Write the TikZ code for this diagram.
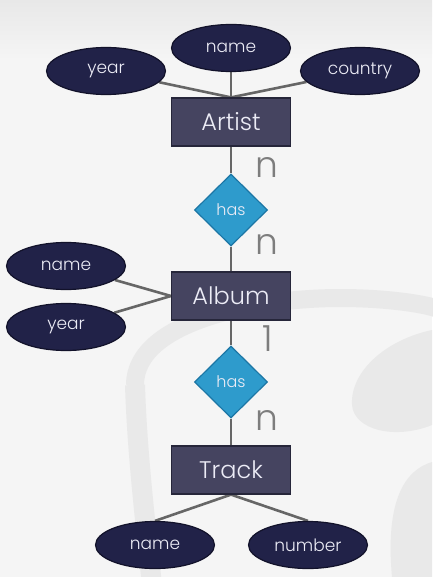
\documentclass[tikz,border=0pt]{standalone}
\usepackage{fontspec}
\setmainfont{Poppins}[UprightFont={* Light}]
\usepackage{tikz}
\usetikzlibrary{shapes,positioning,backgrounds}
\definecolor{bgback}{RGB}{245,245,245}
\definecolor{bgtop}{RGB}{232,232,232}
\definecolor{wmark}{RGB}{233,233,233}
\definecolor{entfill}{RGB}{69,68,96}
\definecolor{entdraw}{RGB}{38,38,58}
\definecolor{attfill}{RGB}{33,34,72}
\definecolor{attdraw}{RGB}{18,18,42}
\definecolor{relfill}{RGB}{46,155,204}
\definecolor{reldraw}{RGB}{28,118,165}
\definecolor{linkgray}{RGB}{102,102,102}
\definecolor{cardgray}{RGB}{125,125,125}
\definecolor{lighttext}{RGB}{236,236,246}

\begin{document}
\begin{tikzpicture}[x=1pt, y=-1pt,
    entity/.style={rectangle, draw=entdraw, line width=1.2pt, fill=entfill, minimum width=119pt, minimum height=48pt, inner sep=0pt, text=lighttext, font=\fontsize{24}{26}\selectfont},
    attrib/.style={ellipse, draw=attdraw, line width=1.2pt, fill=attfill, minimum width=119pt, minimum height=47pt, inner sep=0pt, text=lighttext, font=\fontsize{17}{19}\selectfont},
    relation/.style={diamond, draw=reldraw, line width=1.2pt, fill=relfill, minimum width=73pt, minimum height=72pt, inner sep=0pt, text=lighttext, font=\fontsize{16}{18}\selectfont},
    card/.style={text=cardgray, inner sep=0pt, font=\fontsize{36}{38}\selectfont},
    link/.style={draw=linkgray, line width=2.6pt}
]
\useasboundingbox (0,0) rectangle (432,577);
% background and faint database watermark
\begin{scope}[on background layer]
\fill[bgback] (0,0) rectangle (432,577);
\shade[top color=bgtop, bottom color=bgback] (0,0) rectangle (432,60);
\draw[wmark, line width=18pt] (135,385) .. controls (135,320) and (260,298) .. (340,298) .. controls (390,298) and (432,305) .. (440,310);
\draw[wmark, line width=20pt] (135,385) .. controls (137,450) and (145,520) .. (152,585);
\fill[wmark] (432,330) .. controls (385,340) and (350,372) .. (352,405) .. controls (354,430) and (395,440) .. (432,425) -- cycle;
\fill[wmark] (432,462) .. controls (405,470) and (385,500) .. (392,577) -- (432,577) -- cycle;
\end{scope}

% artist
\node[entity] (artist) at (231,122) {Artist};
\node[attrib] (artname) at (231,48) {name};
\node[attrib] (artyear) at (106,71) {year};
\node[attrib] (artcountry) at (360,71) {country};

% album
\node[entity] (album) at (231,296) {Album};
\node[attrib] (albname) at (66,266) {name};
\node[attrib] (albyear) at (66,327) {year};

% track
\node[entity] (track) at (231,470) {Track};
\node[attrib] (trkname) at (155,545) {name};
\node[attrib] (trknumber) at (308,545) {number};

% relations
\node[relation] (hasone) at (231,210) {has};
\node[relation] (hastwo) at (231,382) {has};

% cardinalities
\node[card] (cardartist) at (267,167) {n};
\node[card] (cardalbumup) at (267,244) {n};
\node[card] (cardalbumdown) at (268,339) {1};
\node[card] (cardtrack) at (267,420) {n};

% links, drawn under the shapes
\begin{scope}[on background layer]
\draw[link] (artname) -- (artist);
\draw[link] (artyear) -- (artist.north);
\draw[link] (artcountry) -- (artist.north);
\draw[link] (artist) -- (hasone);
\draw[link] (hasone) -- (album);
\draw[link] (albname) -- (album.west);
\draw[link] (albyear) -- (album.west);
\draw[link] (album) -- (hastwo);
\draw[link] (hastwo) -- (track);
\draw[link] (track.south) -- (trkname.north);
\draw[link] (track.south) -- (trknumber.north);
\end{scope}
\end{tikzpicture}
\end{document}
